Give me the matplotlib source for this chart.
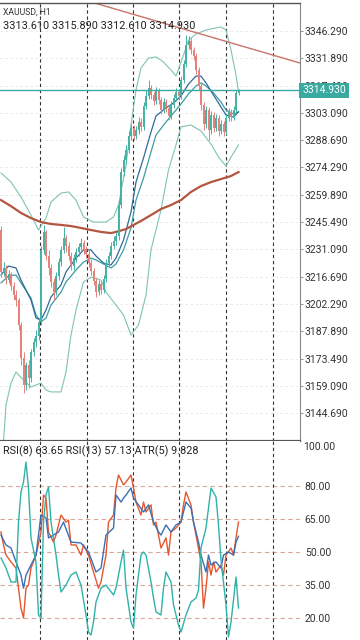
import matplotlib
matplotlib.use('Agg')
import matplotlib.pyplot as plt
from matplotlib.patches import Rectangle
from matplotlib.transforms import blended_transform_factory

plt.rcParams['font.family'] = ['Roboto', 'DejaVu Sans']

# ---------------- data ----------------
symbol = 'XAUUSD, H1'
header_ohlc = ['3313.610', '3315.890', '3312.610', '3314.930']
last_price = 3314.930
indicator_label = 'RSI(8) 63.65 RSI(13) 57.13 ATR(5) 9.828'

opens = [3241.3, 3219.2, 3221.3, 3214.9, 3218.1, 3211.8, 3207.0, 3204.4, 3191.2, 3173.8,
         3159.6, 3170.1, 3163.2, 3177.0, 3182.2, 3185.4, 3192.8, 3230.8, 3240.3, 3227.6,
         3221.3, 3213.9, 3208.6, 3217.1, 3224.4, 3230.8, 3237.1, 3232.9, 3227.6, 3222.3,
         3226.5, 3229.7, 3232.3, 3234.5, 3230.8, 3228.7, 3223.9, 3219.7, 3214.4, 3208.6,
         3212.8, 3209.7, 3215.5, 3223.9, 3227.6, 3232.9, 3235.5, 3238.2, 3254.5, 3271.9,
         3278.2, 3283.5, 3290.9, 3295.1, 3290.9, 3294.1, 3298.3, 3295.7, 3306.7, 3312.0,
         3316.2, 3312.5, 3309.4, 3314.6, 3309.9, 3304.6, 3308.8, 3305.7, 3301.5, 3307.3,
         3310.9, 3314.1, 3312.0, 3320.4, 3328.9, 3338.9, 3341.0, 3336.3, 3333.1, 3325.7,
         3317.3, 3307.3, 3297.2, 3304.6, 3294.1, 3302.0, 3295.1, 3300.4, 3293.5, 3297.2,
         3293.0, 3300.4, 3303.6, 3300.9, 3304.6, 3313.61]
highs = [3243.4, 3224.4, 3222.9, 3220.2, 3219.2, 3213.9, 3209.7, 3205.4, 3192.8, 3177.0,
         3171.7, 3172.7, 3178.5, 3184.3, 3188.6, 3194.9, 3232.9, 3244.0, 3241.3, 3230.8,
         3223.4, 3216.0, 3219.2, 3226.5, 3232.9, 3242.9, 3238.7, 3235.0, 3229.7, 3228.7,
         3231.8, 3234.5, 3237.1, 3236.0, 3232.9, 3230.8, 3226.0, 3221.3, 3216.0, 3214.9,
         3214.4, 3217.6, 3226.0, 3229.7, 3235.0, 3238.2, 3240.3, 3257.1, 3274.0, 3280.9,
         3286.2, 3293.5, 3297.2, 3296.7, 3296.2, 3300.9, 3300.4, 3308.8, 3315.2, 3320.4,
         3317.8, 3314.1, 3316.8, 3316.2, 3311.5, 3310.9, 3310.4, 3307.3, 3309.4, 3313.1,
         3316.2, 3315.7, 3322.5, 3331.0, 3344.2, 3343.6, 3342.6, 3337.8, 3334.7, 3327.3,
         3318.9, 3308.8, 3306.7, 3306.2, 3304.1, 3303.6, 3302.5, 3302.0, 3299.3, 3298.8,
         3302.5, 3305.7, 3305.1, 3306.7, 3315.2, 3315.89]
lows = [3216.5, 3217.1, 3212.8, 3213.4, 3209.7, 3204.4, 3201.2, 3188.6, 3170.1, 3155.3,
        3156.9, 3158.0, 3161.1, 3174.9, 3179.6, 3183.3, 3191.2, 3228.7, 3225.5, 3217.6,
        3211.3, 3204.4, 3207.0, 3214.9, 3222.3, 3229.2, 3229.7, 3225.5, 3220.2, 3220.2,
        3224.4, 3227.6, 3230.8, 3228.7, 3226.5, 3221.8, 3217.6, 3212.3, 3206.0, 3207.0,
        3207.6, 3208.1, 3213.9, 3222.3, 3226.0, 3231.3, 3233.4, 3236.0, 3252.9, 3269.8,
        3276.1, 3281.9, 3288.8, 3288.8, 3289.3, 3292.0, 3293.5, 3294.1, 3305.1, 3310.4,
        3310.4, 3307.3, 3307.8, 3307.8, 3302.5, 3303.0, 3303.6, 3299.3, 3299.9, 3305.7,
        3309.4, 3309.9, 3310.4, 3318.9, 3327.3, 3336.8, 3334.2, 3331.0, 3323.6, 3315.2,
        3304.6, 3294.1, 3295.1, 3288.8, 3292.0, 3293.0, 3293.5, 3290.9, 3292.0, 3290.9,
        3291.4, 3298.8, 3298.8, 3299.3, 3303.0, 3312.61]
closes = [3219.2, 3221.3, 3214.9, 3218.1, 3211.8, 3207.0, 3204.4, 3191.2, 3173.8, 3159.6,
          3170.1, 3163.2, 3177.0, 3182.2, 3185.4, 3192.8, 3230.8, 3240.3, 3227.6, 3221.3,
          3213.9, 3208.6, 3217.1, 3224.4, 3230.8, 3237.1, 3232.9, 3227.6, 3222.3, 3226.5,
          3229.7, 3232.3, 3234.5, 3230.8, 3228.7, 3223.9, 3219.7, 3214.4, 3208.6, 3212.8,
          3209.7, 3215.5, 3223.9, 3227.6, 3232.9, 3235.5, 3238.2, 3254.5, 3271.9, 3278.2,
          3283.5, 3290.9, 3295.1, 3290.9, 3294.1, 3298.3, 3295.7, 3306.7, 3312.0, 3316.2,
          3312.5, 3309.4, 3314.6, 3309.9, 3304.6, 3308.8, 3305.7, 3301.5, 3307.3, 3310.9,
          3314.1, 3312.0, 3320.4, 3328.9, 3338.9, 3341.0, 3336.3, 3333.1, 3325.7, 3317.3,
          3307.3, 3297.2, 3304.6, 3294.1, 3302.0, 3295.1, 3300.4, 3293.5, 3297.2, 3293.0,
          3300.4, 3303.6, 3300.9, 3304.6, 3313.6, 3314.93]

bb_upper_idx = [0, 4, 8, 12, 15, 18, 20, 24, 27, 30, 33, 37, 42, 45, 47, 50, 52, 54, 56, 59,
                62, 65, 68, 70, 73, 75, 78, 82, 86, 88, 90, 92, 94, 95]
bb_upper = [3271.4, 3266.6, 3258.7, 3249.2, 3241.3, 3247.6, 3256.1, 3260.8, 3261.4, 3257.1,
            3248.2, 3245.5, 3245.5, 3248.2, 3254.5, 3275.6, 3296.7, 3315.2, 3326.8, 3332.0,
            3332.6, 3329.9, 3325.7, 3322.5, 3333.6, 3341.5, 3344.7, 3346.8, 3347.9, 3348.4,
            3346.8, 3336.3, 3323.1, 3314.1]
bb_lower_idx = [1, 2, 4, 6, 9, 12, 16, 18, 20, 24, 26, 28, 30, 33, 36, 40, 42, 46, 49, 52,
                55, 58, 60, 64, 67, 70, 72, 76, 80, 84, 87, 90, 92, 95]
bb_lower = [3130.0, 3149.0, 3160.6, 3166.4, 3162.2, 3158.5, 3160.6, 3156.9, 3155.9, 3155.9,
            3166.4, 3185.9, 3199.1, 3213.9, 3216.5, 3214.9, 3208.6, 3201.7, 3196.5, 3185.9,
            3191.2, 3207.0, 3230.8, 3251.9, 3273.0, 3286.2, 3295.7, 3296.7, 3293.5, 3286.7,
            3279.8, 3275.1, 3279.8, 3286.2]
ma_idx = [0, 3, 6, 8, 12, 14, 16, 18, 20, 24, 26, 30, 33, 36, 38, 41, 44, 46, 49, 52,
          54, 57, 60, 62, 66, 69, 72, 75, 78, 80, 82, 85, 88, 90, 93, 95]
ma_fast = [3217.6, 3222.3, 3221.3, 3214.9, 3204.4, 3194.9, 3193.8, 3199.1, 3206.0, 3212.3,
           3219.2, 3226.5, 3230.8, 3230.8, 3227.6, 3223.9, 3222.9, 3226.5, 3236.0, 3250.8,
           3266.6, 3279.3, 3293.0, 3301.5, 3305.7, 3308.3, 3312.0, 3318.3, 3322.5, 3322.5,
           3318.9, 3312.5, 3306.2, 3302.0, 3300.9, 3303.6]
ma_slow = [3213.4, 3217.1, 3217.6, 3213.4, 3205.4, 3196.5, 3192.8, 3194.9, 3201.7, 3208.6,
           3213.9, 3220.2, 3224.4, 3226.5, 3225.5, 3223.4, 3221.3, 3223.4, 3230.8, 3242.4,
           3257.1, 3268.7, 3282.5, 3291.4, 3298.3, 3303.0, 3307.8, 3313.1, 3317.3, 3318.9,
           3317.3, 3313.6, 3308.8, 3304.6, 3302.5, 3303.6]
ma200_idx = [0, 4, 8, 12, 16, 20, 24, 28, 32, 36, 40, 44, 46, 50, 53, 56, 60, 64, 68, 72,
             76, 80, 84, 88, 92, 95]
ma200 = [3257.1, 3253.9, 3250.3, 3247.6, 3245.5, 3244.5, 3244.0, 3243.4, 3242.4, 3241.3,
         3240.3, 3239.7, 3240.3, 3241.8, 3244.0, 3246.1, 3249.2, 3252.4, 3254.5, 3257.1,
         3261.4, 3264.5, 3266.6, 3268.2, 3269.8, 3271.9]
trend_idx = [37.6, 119.6]
trend_price = [3361.0, 3329.4]

rsi8_idx = [0, 1, 2, 4, 6, 7, 8, 9, 10, 11, 12, 14, 16, 17, 18, 19, 21, 22, 24, 26,
            27, 28, 30, 32, 33, 35, 37, 39, 40, 42, 43, 45, 46, 47, 49, 50, 52, 53, 54, 56,
            57, 58, 60, 61, 62, 64, 66, 67, 68, 70, 72, 73, 74, 76, 77, 78, 80, 81, 82, 83,
            84, 85, 86, 88, 89, 90, 92, 93, 94, 95]
rsi8 = [59.1, 53.2, 48.6, 45.5, 42.7, 33.6, 24.5, 20.0, 33.6, 35.0,
        42.7, 48.6, 59.1, 75.9, 74.5, 59.1, 54.5, 57.7, 66.8, 63.6,
        64.5, 53.2, 53.2, 48.6, 53.2, 48.6, 40.9, 33.6, 36.4, 48.6,
        63.6, 66.8, 79.1, 85.0, 80.5, 81.8, 85.0, 79.1, 72.7, 66.8,
        72.7, 68.2, 71.4, 62.3, 63.6, 51.8, 56.4, 48.6, 59.1, 60.9,
        63.6, 71.4, 77.3, 71.4, 63.6, 57.7, 45.5, 24.5, 33.6, 45.5,
        39.5, 45.5, 40.9, 44.1, 39.5, 48.6, 51.8, 48.6, 56.4, 63.65]
rsi13_idx = [0, 2, 4, 6, 8, 9, 10, 12, 14, 16, 18, 19, 21, 23, 25, 28, 32, 35, 38, 40,
             42, 45, 46, 48, 49, 50, 52, 53, 55, 57, 59, 61, 63, 64, 66, 68, 70, 72, 73, 74,
             76, 77, 79, 80, 82, 83, 84, 86, 88, 89, 91, 93, 94, 95]
rsi13 = [57.7, 53.2, 51.8, 45.5, 39.5, 33.6, 39.5, 44.1, 48.6, 66.8,
         65.5, 56.4, 57.7, 59.1, 63.6, 54.5, 54.1, 50.0, 40.9, 42.7,
         57.7, 60.9, 75.9, 72.7, 74.5, 75.9, 79.1, 74.5, 71.4, 68.2,
         71.4, 63.6, 59.1, 57.7, 62.3, 59.1, 62.3, 63.6, 68.2, 72.7,
         70.0, 63.6, 54.5, 48.6, 40.9, 48.6, 44.1, 45.5, 42.7, 48.6,
         50.0, 48.6, 54.5, 57.13]
atr_idx = [0, 2, 4, 6, 7, 8, 9, 10, 11, 12, 14, 15, 16, 17, 18, 19, 20, 22, 23, 24,
           26, 28, 30, 32, 34, 35, 36, 37, 38, 40, 42, 45, 46, 48, 49, 50, 52, 53, 54, 56,
           57, 58, 60, 61, 62, 64, 65, 66, 68, 69, 71, 72, 74, 76, 78, 79, 80, 82, 84, 86,
           87, 88, 90, 91, 92, 93, 94, 95]
atr5 = [14.25, 13.37, 12.13, 12.13, 17.44, 20.09, 20.97, 22.74, 20.44, 16.02,
        13.90, 9.21, 8.95, 17.44, 19.82, 20.53, 17.44, 14.52, 12.75, 11.25,
        11.86, 12.75, 13.01, 11.86, 9.21, 7.71, 7.44, 8.59, 10.36, 11.60,
        11.86, 10.98, 11.60, 13.90, 14.96, 11.60, 8.59, 8.06, 10.98, 14.52,
        14.78, 14.52, 12.13, 10.71, 9.48, 9.21, 11.60, 13.01, 12.13, 10.10,
        8.33, 7.71, 9.21, 10.36, 10.71, 11.42, 15.14, 16.91, 20.44, 19.65,
        17.17, 14.08, 10.10, 7.27, 8.59, 10.54, 12.57, 9.83]

price_ticks = [3346.290, 3331.890, 3317.490, 3303.090, 3288.690, 3274.290, 3259.890,
               3245.490, 3231.090, 3216.690, 3202.290, 3187.890, 3173.490, 3159.090, 3144.690]
rsi_levels = [80, 65, 50, 35, 20]
day_separators = [15.6, 34.4, 52.8, 71.2, 90.0, 108.8]

# ---------------- styles ----------------
UP = '#45b2a4'
DOWN = '#e5817a'
BAND = '#7fc3b1'
FAST = '#2f6a9a'
SLOW = '#3b9ea3'
MA200C = '#b4553f'
TREND = '#c87468'
PRICEC = '#3aa99f'
TXT = '#333333'

fig = plt.figure(figsize=(3.6, 6.4), dpi=100)
W = 300 / 360
ax = fig.add_axes([0, 199 / 640, W, 438 / 640])
ax2 = fig.add_axes([0, 0, W, 199 / 640])
ax3 = fig.add_axes([0, 0, W, 199 / 640])

xlim = (-0.4, 119.6)
ax.set_xlim(*xlim)
ax.set_ylim(3130.02, 3361.06)
ax2.set_xlim(*xlim)
ax2.set_ylim(10.0, 100.45)
ax3.set_xlim(*xlim)
ax3.set_ylim(7.0, 24.6)
ax3.axis('off')
ax3.patch.set_visible(False)

# grid
for t in price_ticks:
    ax.axhline(t, color='#e6e6e6', lw=0.6, ls=(0, (3, 3)), zorder=0)
for s in day_separators:
    ax.axvline(s, color='#333333', lw=0.8, ls=(0, (3, 2.5)), zorder=1)
    ax2.axvline(s, color='#333333', lw=0.8, ls=(0, (3, 2.5)), zorder=1)

# indicators on price
ax.plot(bb_upper_idx, bb_upper, color=BAND, lw=0.8, zorder=2)
ax.plot(bb_lower_idx, bb_lower, color=BAND, lw=0.8, zorder=2)
ax.plot(ma_idx, ma_slow, color=SLOW, lw=0.9, zorder=2)
ax.plot(ma_idx, ma_fast, color=FAST, lw=0.9, zorder=2)
ax.plot(ma200_idx, ma200, color=MA200C, lw=1.6, zorder=2)
ax.plot(trend_idx, trend_price, color=TREND, lw=1.0, zorder=2)

# candles
for i, (o, h, l, c) in enumerate(zip(opens, highs, lows, closes)):
    col = UP if c >= o else DOWN
    ax.vlines(i, l, h, color=col, lw=0.7, zorder=3)
    bottom = min(o, c)
    height = max(abs(c - o), 0.4)
    ax.add_patch(Rectangle((i - 0.35, bottom), 0.7, height, facecolor=col,
                           edgecolor='none', zorder=3))

# last price line
ax.axhline(last_price, color=PRICEC, lw=1.0, zorder=4)

# axes styling main
for side in ['left']:
    ax.spines[side].set_visible(False)
ax.spines['top'].set_color('#555555')
ax.spines['top'].set_linewidth(1.0)
ax.spines['right'].set_color('#888888')
ax.spines['right'].set_linewidth(0.8)
ax.spines['bottom'].set_color('#555555')
ax.spines['bottom'].set_linewidth(1.6)
ax.set_xticks([])
ax.yaxis.tick_right()
ax.set_yticks(price_ticks)
ax.set_yticklabels([f'{t:.3f}' for t in price_ticks])
ax.tick_params(axis='y', length=2, width=0.6, color='#888888', pad=1.5,
               labelsize=7.5, labelcolor=TXT)

trans = blended_transform_factory(ax.transAxes, ax.transData)
ax.text(1.008, last_price, f'{last_price:.3f}', transform=trans, ha='left', va='center',
        fontsize=7.5, color='white', zorder=10, clip_on=False,
        bbox=dict(boxstyle='square,pad=0.28', fc=PRICEC, ec='none'))

# RSI panel
for lv in rsi_levels:
    ax2.axhline(lv, color='#d9a79b', lw=0.8, ls=(0, (4, 3)), zorder=0)
ax2.plot(rsi8_idx, rsi8, color='#e4572e', lw=1.0, zorder=3)
ax2.plot(rsi13_idx, rsi13, color='#3b6fb6', lw=1.0, zorder=3)
ax3.plot(atr_idx, atr5, color='#2fb3a9', lw=1.0, zorder=3)
for side in ['left', 'top', 'bottom', 'right']:
    ax2.spines[side].set_visible(False)
ax2.set_xticks([])
ax2.yaxis.tick_right()
ax2.set_yticks(rsi_levels)
ax2.set_yticklabels([f'{v:.2f}' for v in rsi_levels])
ax2.tick_params(axis='y', length=0, pad=3.5, labelsize=7.5, labelcolor=TXT)
trans2 = blended_transform_factory(ax2.transAxes, ax2.transData)
ax2.text(1.0 + 3.5 / 300, 100.0, '100.00', transform=trans2, ha='left', va='top',
         fontsize=7.5, color=TXT, clip_on=False)

# header texts
fig.text(3 / 360, 1 - 12 / 640, symbol, fontsize=6.2, color=TXT, va='center', ha='left')
fig.text(3 / 360, 1 - 26 / 640, ' '.join(header_ohlc), fontsize=7.8, color='#222222',
         va='center', ha='left')
fig.text(3 / 360, 1 - 451 / 640, indicator_label, fontsize=7.8, color='#222222',
         va='center', ha='left')

fig.savefig('out.png', dpi=100)
